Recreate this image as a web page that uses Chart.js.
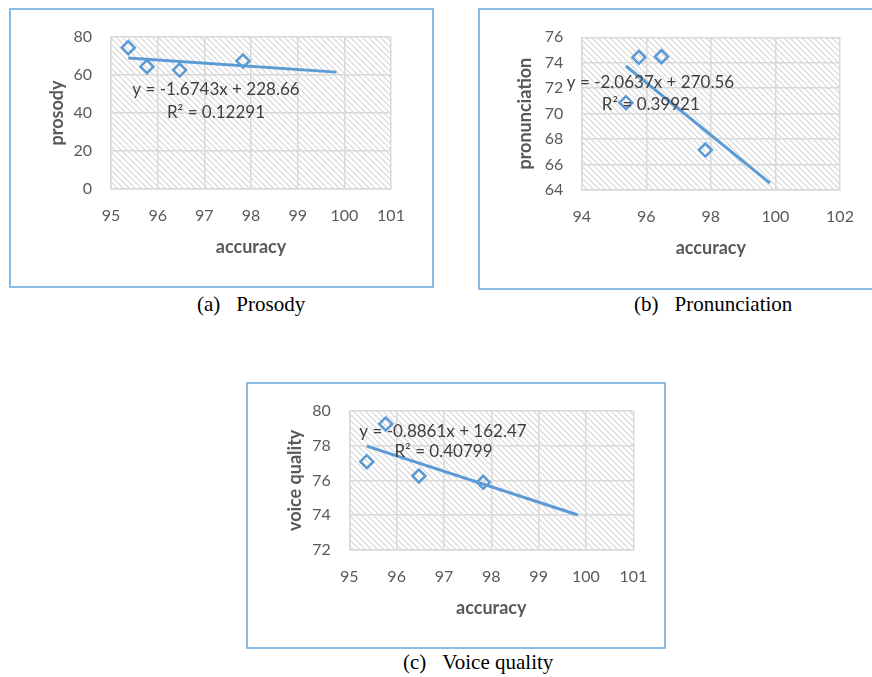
<!DOCTYPE html>
<html>
<head>
<meta charset="utf-8">
<script src="https://cdn.jsdelivr.net/npm/chart.js@4"></script>
<style>
  body { margin: 0; background: #fff; width: 872px; height: 677px; position: relative; overflow: hidden; }
  .box { position: absolute; border: 2px solid #8cbbe6; overflow: hidden; }
  .box canvas { display: block; }
  .caption { position: absolute; font-family: "Liberation Serif", serif; font-size: 21px; line-height: 21px; color: #000; white-space: nowrap; }
  .caption span + span { margin-left: 16px; }
</style>
</head>
<body>

<div class="box" style="left:9px; top:8px; width:421px; height:276px"><canvas id="chartA" width="421" height="276"></canvas></div>
<div class="box" style="left:478px; top:8px; width:400px; height:278px"><canvas id="chartB" width="400" height="278"></canvas></div>
<div class="box" style="left:246px; top:382px; width:416px; height:263px"><canvas id="chartC" width="416" height="263"></canvas></div>

<div class="caption" style="left:197px; top:294px"><span>(a)</span><span>Prosody</span></div>
<div class="caption" style="left:634px; top:294px"><span>(b)</span><span>Pronunciation</span></div>
<div class="caption" style="left:403px; top:652px"><span>(c)</span><span>Voice quality</span></div>

<script>
// values (same accuracy values on every panel)
const accuracy = [95.37, 95.77, 96.47, 97.83];
const prosody = [74.4, 64.4, 62.6, 67.4];
const pronunciation = [70.86, 74.43, 74.48, 67.14];
const voiceQuality = [77.07, 79.24, 76.25, 75.89];

// trendline [slope, intercept, R²] as printed on the charts
const prosodyFit = [-1.6743, 228.66, 0.12291];
const pronunciationFit = [-2.0637, 270.56, 0.39921];
const voiceQualityFit = [-0.8861, 162.47, 0.40799];
// trendline runs from the first point and is forecast 2 units forward
const trendRange = [95.37, 99.83];

// tick labels
const prosodyXTicks = [95, 96, 97, 98, 99, 100, 101];
const prosodyYTicks = [0, 20, 40, 60, 80];
const pronunciationXTicks = [94, 96, 98, 100, 102];
const pronunciationYTicks = [64, 66, 68, 70, 72, 74, 76];
const voiceQualityXTicks = [95, 96, 97, 98, 99, 100, 101];
const voiceQualityYTicks = [72, 74, 76, 78, 80];

const BLUE = '#5b9bd5';
const GRID = '#d9d9d9';
const LABEL = '#595959';

function hatch(ctx) {
  const c = document.createElement('canvas');
  c.width = 6; c.height = 6;
  const g = c.getContext('2d');
  g.strokeStyle = '#d6d6d6';
  g.lineWidth = 1.2;
  g.beginPath();
  g.moveTo(-1, -1); g.lineTo(7, 7);
  g.moveTo(-1, 5); g.lineTo(1, 7);
  g.moveTo(5, -1); g.lineTo(7, 1);
  g.stroke();
  return ctx.createPattern(c, 'repeat');
}

// diagonal hatch behind the plot area
const plotBg = {
  id: 'plotBg',
  beforeDraw(chart) {
    const {ctx, chartArea: a} = chart;
    ctx.save();
    ctx.fillStyle = hatch(ctx);
    ctx.fillRect(a.left, a.top, a.right - a.left, a.bottom - a.top);
    ctx.restore();
  }
};

// trendline equation + R², anchored in data units
const equation = {
  id: 'equation',
  afterDatasetsDraw(chart, args, opts) {
    const {ctx, scales: {x, y}} = chart;
    ctx.save();
    ctx.font = '17px Lato';
    ctx.fillStyle = '#404040';
    ctx.textAlign = 'center';
    ctx.textBaseline = 'middle';
    opts.lines.forEach(l => {
      ctx.fillText(l.text, x.getPixelForValue(l.at[0]), y.getPixelForValue(l.at[1]));
    });
    ctx.restore();
  }
};

function axis(ticks, title, o) {
  return {
    type: 'linear',
    min: ticks[0],
    max: ticks[ticks.length - 1],
    afterBuildTicks: s => { s.ticks = ticks.map(v => ({value: v})); },
    afterFit: s => {
      if (s.isHorizontal()) { s.height = o.size; s.paddingLeft = 0; s.paddingRight = 0; }
      else { s.width = o.size; s.paddingTop = 0; s.paddingBottom = 0; }
    },
    grid: { color: GRID, lineWidth: 1.5, drawTicks: false },
    border: { color: GRID, width: 1.5 },
    ticks: { padding: o.tickPad, color: LABEL, font: { family: 'Lato', size: 16 } },
    title: { display: true, text: title, color: LABEL, padding: o.titlePad,
             font: { family: 'Lato', size: 18, weight: 'bold' } }
  };
}

function makeChart(id, cfg) {
  const [slope, icept, r2] = cfg.fit;
  const trend = trendRange.map(v => ({x: v, y: slope * v + icept}));
  const pts = accuracy.map((a, i) => ({x: a, y: cfg.values[i]}));
  return new Chart(document.getElementById(id), {
    type: 'scatter',
    data: {
      datasets: [
        { data: trend, showLine: true, borderColor: BLUE, borderWidth: 3, pointRadius: 0 },
        { data: pts, pointStyle: 'rectRot', pointRadius: 6.5, borderColor: BLUE,
          borderWidth: 2.5, backgroundColor: 'rgba(0,0,0,0)' }
      ]
    },
    options: {
      responsive: false,
      animation: false,
      events: [],
      layout: { padding: cfg.pad },
      plugins: {
        legend: { display: false },
        tooltip: { enabled: false },
        equation: { lines: [
          { text: 'y = ' + slope + 'x + ' + icept, at: cfg.eqAt[0] },
          { text: 'R² = ' + r2, at: cfg.eqAt[1] }
        ] }
      },
      scales: {
        x: axis(cfg.xTicks, 'accuracy', cfg.x),
        y: axis(cfg.yTicks, cfg.yTitle, cfg.y)
      }
    },
    plugins: [plotBg, equation]
  });
}

makeChart('chartA', {
  values: prosody, fit: prosodyFit, yTitle: 'prosody',
  xTicks: prosodyXTicks, yTicks: prosodyYTicks,
  pad: { left: 30, top: 27, right: 41, bottom: 27 },
  x: { size: 70, tickPad: 17.4, titlePad: { top: 0, bottom: 1.2 } },
  y: { size: 70, tickPad: 19, titlePad: { top: 4.9, bottom: 0 } },
  eqAt: [[97.25, 52.1], [97.25, 40.2]]
});

makeChart('chartB', {
  values: pronunciation, fit: pronunciationFit, yTitle: 'pronunciation',
  xTicks: pronunciationXTicks, yTicks: pronunciationYTicks,
  pad: { left: 30, top: 27.3, right: 40, bottom: 28 },
  x: { size: 70, tickPad: 17.1, titlePad: { top: 0, bottom: 1.2 } },
  y: { size: 71.7, tickPad: 18.4, titlePad: { top: 4.2, bottom: 0 } },
  eqAt: [[96.13, 72.46], [96.14, 70.73]]
});

makeChart('chartC', {
  values: voiceQuality, fit: voiceQualityFit, yTitle: 'voice quality',
  xTicks: voiceQualityXTicks, yTicks: voiceQualityYTicks,
  pad: { left: 30, top: 26.7, right: 30.7, bottom: 27 },
  x: { size: 70, tickPad: 17.1, titlePad: { top: 0, bottom: 0.9 } },
  y: { size: 71.3, tickPad: 18.6, titlePad: { top: 6.2, bottom: 0 } },
  eqAt: [[96.98, 78.83], [96.99, 77.65]]
});
</script>
</body>
</html>
